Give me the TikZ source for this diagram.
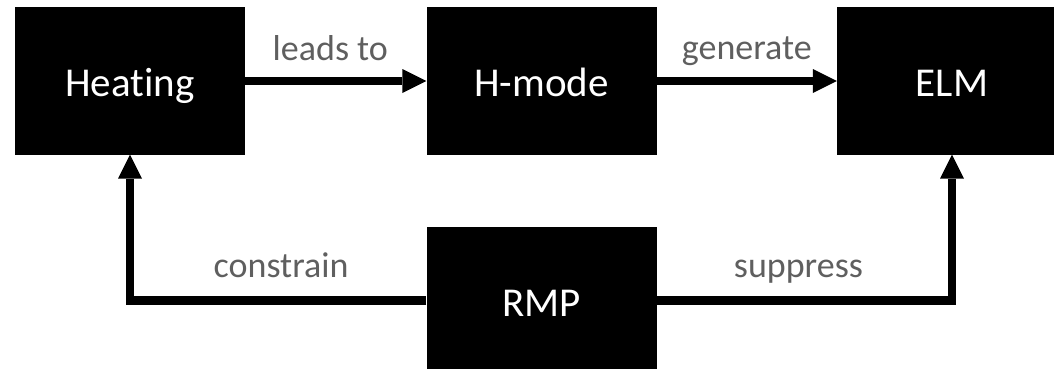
\documentclass[tikz,border=0pt]{standalone}
\usepackage{fontspec}
\setmainfont{Carlito}[Ligatures=NoCommon]
\usetikzlibrary{arrows.meta}
\definecolor{labelgray}{HTML}{5F5F5F}
\tikzset{
  block/.style={fill=black, text=white, rectangle, inner sep=0pt,
    minimum width=230pt, minimum height=147pt,
    text height=31pt, text depth=0pt,
    font=\fontsize{41}{49}\selectfont},
  flow/.style={line width=8.5pt, line join=miter,
    -{Triangle[length=24pt,width=24pt,line width=0pt]}},
  lbl/.style={text=labelgray, anchor=base, inner sep=0pt,
    font=\fontsize{36}{43}\selectfont}
}
\begin{document}
\begin{tikzpicture}[x=1pt, y=-1pt]
  \useasboundingbox (0,0) rectangle (1054,369);
  % process blocks
  \node[block] (heat)  at (130,81)     {Heating};
  \node[block] (hmode) at (541.5,81)   {H-mode};
  \node[block] (elm)   at (952,81)     {ELM};
  \node[block] (rmp)   at (541.5,300.5) {RMP};
  % causal chain along the top
  \draw[flow] (heat.east) -- (hmode.west)
    node[lbl, pos=0.47, yshift=21pt] {leads to};
  \draw[flow] (hmode.east) -- (elm.west)
    node[lbl, pos=0.5, yshift=21.5pt] {generate};
  % control paths from RMP
  \draw[flow] (rmp.west) -| (heat.south)
    node[lbl, pos=0.245, yshift=23pt] {constrain};
  \draw[flow] (rmp.east) -| (elm.south)
    node[lbl, pos=0.24, yshift=23pt] {suppress};
\end{tikzpicture}
\end{document}
